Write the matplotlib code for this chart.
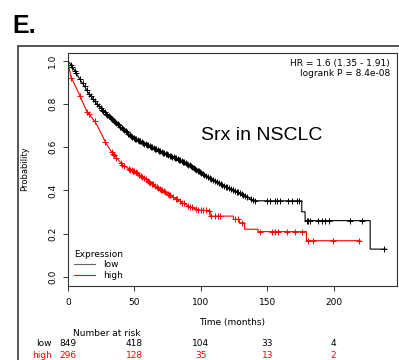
"""
Kaplan-Meier plot: Srx in NSCLC
"""
import numpy as np
import matplotlib
matplotlib.use("Agg")
import matplotlib.pyplot as plt
from matplotlib.lines import Line2D
from matplotlib.transforms import blended_transform_factory

plt.rcParams["font.family"] = "DejaVu Sans"
plt.rcParams["font.size"] = 6.5

# --- data (curve traced as polyline, corners at drops) ---
low_t = [0, 1.5, 4, 7, 10, 12.5, 15, 18, 21, 24, 27, 30, 33, 36, 39, 42, 45, 48,
         52, 56, 60, 64, 68, 72, 76, 80, 85, 90, 95, 100, 105, 110, 115, 120,
         125, 130, 134, 137, 141, 176, 176, 178.5, 178.5, 227.5, 227.5, 239.5]
low_s = [1.0, 0.988, 0.965, 0.935, 0.905, 0.882, 0.855, 0.83, 0.805, 0.785,
         0.765, 0.748, 0.732, 0.716, 0.698, 0.682, 0.666, 0.650, 0.635, 0.622,
         0.610, 0.598, 0.585, 0.574, 0.563, 0.553, 0.538, 0.522, 0.502, 0.482,
         0.465, 0.447, 0.430, 0.415, 0.400, 0.385, 0.372, 0.362, 0.352, 0.352,
         0.301, 0.301, 0.260, 0.260, 0.128, 0.128]
low_cens = [2, 3, 5, 6, 9, 11, 12.5, 14, 16, 17, 19, 20, 22, 23, 24.5, 25.5, 26.5,
            27.5, 28.5, 29.5, 30.5, 31.5, 32.5, 33.5, 34.5, 35.5, 36.5, 37.5,
            38.5, 39.5, 40.5, 41.5, 42.5, 43.5, 44.5, 45.5, 46.5, 47.5, 48.5,
            49.5, 50.5, 51.5, 52.5, 53.5, 54.5, 55.5, 56.5, 57.5, 58.5, 59.5,
            60.5, 61.5, 62.5, 63.5, 64.5, 65.5, 66.5, 67.5, 68.5, 69.5, 70.5,
            71.5, 72.5, 73.5, 74.5, 75.5, 76.5, 77.5, 78.5, 79.5, 80.5, 81.5,
            82.5, 83.5, 84.5, 85.5, 86.5, 87.5, 88.5, 89.5, 90.5, 91.5, 92.5,
            93.5, 94.5, 95.5, 96.5, 97.5, 98.5, 99.5, 100.5, 101.5, 102.5, 104,
            105.5, 107, 108, 109.5, 111, 112, 113.5, 115, 116, 117.5, 119, 120,
            121.5, 123, 124, 125.5, 127, 128, 129.5, 131, 132, 133.5, 135,
            137.5, 139, 141, 149.5, 152, 155.8, 157, 159.5, 165.8, 168.3, 172.1,
            174.1, 179.6, 181, 182.2, 188.4, 191, 193.5, 196.7, 212.4, 221.1,
            238]

high_t = [0, 2, 5, 8.5, 11, 14, 17.5, 21, 24.5, 28.5, 32, 36, 41, 46, 51, 56,
          61, 66, 71, 76, 81, 86, 90, 94, 99, 107, 107, 124.5, 124.5, 129, 129,
          133, 133, 143, 143, 179.5, 179.5, 220]
high_s = [1.0, 0.93, 0.89, 0.846, 0.81, 0.768, 0.74, 0.712, 0.67, 0.62, 0.585,
          0.556, 0.518, 0.50, 0.485, 0.462, 0.440, 0.42, 0.40, 0.381, 0.362,
          0.343, 0.330, 0.318, 0.309, 0.306, 0.281, 0.281, 0.266, 0.266, 0.25,
          0.25, 0.220, 0.220, 0.209, 0.209, 0.167, 0.167]
high_cens = [2.5, 9, 14.5, 15.5, 20, 28, 33, 34, 35, 36.5, 40, 41, 42.5, 46,
             47, 48, 49, 50, 51, 52, 53.5, 55, 56, 57, 58.5, 60, 61, 62, 63, 64,
             65.5, 67, 68, 69, 70, 71, 72, 73, 75, 76, 77, 79, 81, 82, 84, 86,
             87, 90, 92, 93, 96, 98, 100, 102, 104, 106, 108, 110.6, 113, 114.8,
             125.6, 128.1, 130.7, 144.5, 153.3, 155.8, 158.3, 164.6, 170.8,
             175.9, 180.9, 184.6, 199.7, 219.3]

risk_times = [0, 50, 100, 150, 200]
risk_low = [849, 418, 104, 33, 4]
risk_high = [296, 128, 35, 13, 2]

x_ticks = [0, 50, 100, 150, 200]
y_ticks = [0.0, 0.2, 0.4, 0.6, 0.8, 1.0]


def surv_at(times, surv, c):
    """value of the traced curve at censor time c (upper value at a drop)"""
    i = np.searchsorted(times, c, side="left")
    if i < len(times) and times[i] == c:
        return surv[i]
    return np.interp(c, times, surv)


fig = plt.figure(figsize=(3.99, 3.6), dpi=100)
ax = fig.add_axes((68 / 399, 1 - 286 / 360, 329 / 399, 233 / 360))

RED = "#FF0000"
l_low, = ax.plot(low_t, low_s, color="black", lw=0.8)
l_high, = ax.plot(high_t, high_s, color=RED, lw=0.8)

ax.plot(low_cens, [surv_at(low_t, low_s, c) for c in low_cens], ls="none",
        marker="+", ms=5, mew=0.7, color="black")
ax.plot(high_cens, [surv_at(high_t, high_s, c) for c in high_cens], ls="none",
        marker="+", ms=5, mew=0.7, color=RED)

ax.set_xlim(0, 247.7)
ax.set_ylim(-0.043, 1.037)
ax.set_xticks(x_ticks)
ax.set_yticks(y_ticks)
ax.set_yticklabels([f"{v:.1f}" for v in y_ticks], rotation=90, va="center")
ax.tick_params(axis="both", direction="out", length=3.8, width=0.7,
               color="#333333", labelsize=6.5)
ax.tick_params(axis="y", pad=4)
ax.tick_params(axis="x", pad=5)
for sp in ax.spines.values():
    sp.set_linewidth(0.8)
    sp.set_color("#333333")

# legend
leg = ax.legend([l_low, l_high], ["low", "high"], title="Expression",
                loc="lower left", bbox_to_anchor=(0.0, 0.0), frameon=False,
                fontsize=6.5, title_fontsize=6.5, handlelength=2.3,
                handletextpad=0.9, labelspacing=0.2, borderaxespad=0.35,
                borderpad=0.3, alignment="left")
leg.get_lines()[0].set_color("#666666")

# annotations
ax.text(0.979, 0.957, "HR = 1.6 (1.35 - 1.91)", transform=ax.transAxes,
        ha="right", va="center", fontsize=6.5)
ax.text(0.979, 0.91, "logrank P = 8.4e-08", transform=ax.transAxes,
        ha="right", va="center", fontsize=6.5)
ax.text(0.59, 0.648, "Srx in NSCLC", transform=ax.transAxes, ha="center",
        va="center", fontsize=14, family="Liberation Sans")

# axis labels
fig.text(25 / 399, 1 - 169 / 360, "Probability", rotation=90, ha="center",
         va="center", fontsize=6)
fig.text(232 / 399, 1 - 323 / 360, "Time (months)", ha="center", va="center",
         fontsize=6.5)

# number at risk table
tr = blended_transform_factory(ax.transData, fig.transFigure)
fig.text(107 / 399, 1 - 333 / 360, "Number at risk", ha="center", va="center",
         fontsize=6.5)
fig.text(52 / 399, 1 - 344 / 360, "low", ha="right", va="center", fontsize=6.5)
fig.text(52 / 399, 1 - 355 / 360, "high", ha="right", va="center",
         fontsize=6.5, color=RED)
for t, n in zip(risk_times, risk_low):
    ax.text(t, 1 - 344 / 360, str(n), transform=tr, ha="center", va="center",
            fontsize=6.5, clip_on=False)
for t, n in zip(risk_times, risk_high):
    ax.text(t, 1 - 355 / 360, str(n), transform=tr, ha="center", va="center",
            fontsize=6.5, color=RED, clip_on=False)

# panel letter and outer frame
fig.text(12 / 399, 1 - 33 / 360, "E.", ha="left", va="baseline", fontsize=18,
         fontweight="bold", family="Liberation Sans")
fig.add_artist(Line2D([18 / 399, 18 / 399], [-0.05, 1 - 46 / 360],
                      transform=fig.transFigure, color="#555555", lw=1.4))
fig.add_artist(Line2D([18 / 399, 1.05], [1 - 46 / 360, 1 - 46 / 360],
                      transform=fig.transFigure, color="#555555", lw=1.4))

fig.savefig("out.png", dpi=100)
